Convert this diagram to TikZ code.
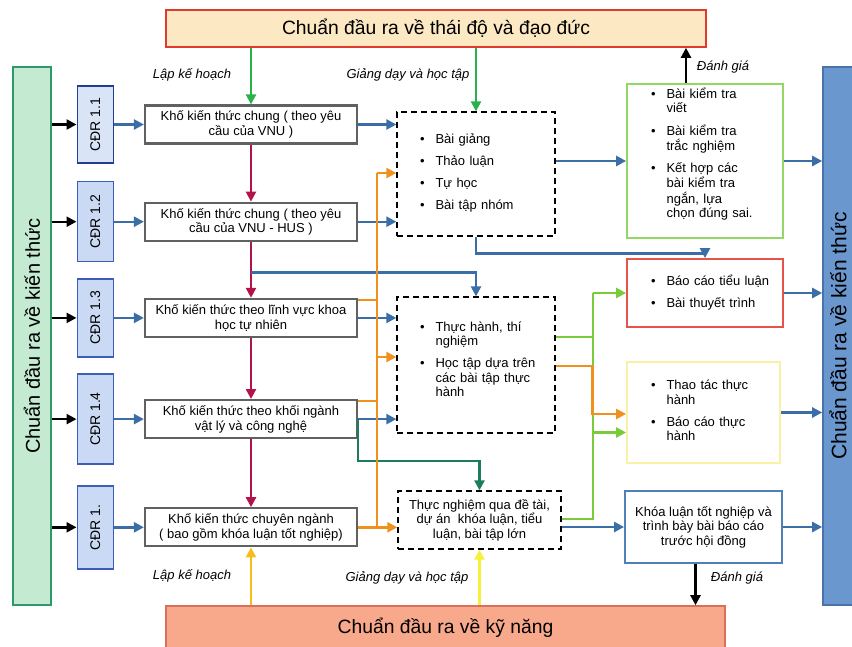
\documentclass[tikz,border=0pt]{standalone}
\usepackage{fontspec}
\setmainfont{Liberation Sans}
\usepackage{graphicx}
\usepackage{tikz}
\usetikzlibrary{positioning,arrows.meta}
\definecolor{attfill}{HTML}{FCE9C4}
\definecolor{attdraw}{HTML}{E2392D}
\definecolor{skillfill}{HTML}{F8A98C}
\definecolor{skilldraw}{HTML}{D9705A}
\definecolor{knowfill}{HTML}{C4EAD2}
\definecolor{knowdraw}{HTML}{2E9A6B}
\definecolor{rknowfill}{HTML}{6B97CF}
\definecolor{rknowdraw}{HTML}{4A73AB}
\definecolor{cdrfill}{HTML}{CAD9F4}
\definecolor{cdrdraw}{HTML}{3D5DBA}
\definecolor{cdrdark}{HTML}{213D94}
\definecolor{arrblue}{HTML}{3B6EA6}
\definecolor{arrred}{HTML}{B3134C}
\definecolor{arrgreen}{HTML}{2AB24A}
\definecolor{arrorange}{HTML}{F0911D}
\definecolor{arrteal}{HTML}{1D7C60}
\definecolor{arrlime}{HTML}{7ACB38}
\definecolor{arrgold}{HTML}{F6BC1B}
\definecolor{arryellow}{HTML}{F6F03A}
\definecolor{lbgreen}{HTML}{93D764}
\definecolor{lbred}{HTML}{E6534B}
\definecolor{lbyellow}{HTML}{FBF1A6}
\definecolor{lbblue}{HTML}{4F80B7}

\begin{document}
\begin{tikzpicture}[x=1pt, y=-1pt, line width=2.4pt,
    every node/.style={font=\fontsize{13}{14.5}\selectfont},
    bigbox/.style={draw, line width=1.6pt, font=\fontsize{19.3}{22}\selectfont},
    sidebox/.style={draw, line width=1.6pt, minimum height=538pt, inner sep=0pt},
    cdr/.style={draw=cdrdraw, fill=cdrfill, line width=1.4pt, minimum width=36pt, inner sep=0pt, font=\fontsize{14}{16}\selectfont},
    kbox/.style={draw=black!62, line width=2.2pt, fill=white, minimum width=212pt, minimum height=38pt, inner sep=1pt, align=center},
    dbox/.style={draw, line width=1.3pt, dash pattern=on 6pt off 4pt},
    rbox/.style={draw, line width=1.8pt, fill=white},
    lst/.style={align=left, text width=#1, inner ysep=0pt},
    arr/.style={-{Triangle[length=10pt,width=10pt]}},
    lbl/.style={font=\itshape\fontsize{13}{14.5}\selectfont}]
  \useasboundingbox (0,0) rectangle (852,646);
  \node[bigbox, draw=attdraw, fill=attfill, minimum width=540pt, minimum height=37pt] (att) at (436,28.5) {Chuẩn đầu ra về thái độ và đạo đức};
  \node[bigbox, draw=skilldraw, fill=skillfill, minimum width=559pt, minimum height=44pt] (skill) at (445.5,628) {Chuẩn đầu ra về kỹ năng};
  \node[sidebox, draw=knowdraw, fill=knowfill, minimum width=38pt, font=\fontsize{20}{22}\selectfont] (lknow) at (32,336) {\rotatebox{90}{Chuẩn đầu ra về kiến thức}};
  \node[sidebox, draw=rknowdraw, fill=rknowfill, minimum width=30pt, font=\fontsize{21}{23}\selectfont] (rknow) at (838,336) {\rotatebox{90}{Chuẩn đầu ra về kiến thức}};

  \node[kbox] (k1) at (251,124.5) {Khố kiến thức chung ( theo yêu\\cầu của VNU )};
  \node[kbox, below=57pt of k1] (k2) {Khố kiến thức chung ( theo yêu\\cầu của VNU - HUS )};
  \node[kbox, below=56pt of k2] (k3) {Khố kiến thức theo lĩnh vực khoa\\học tự nhiên};
  \node[kbox, below=61pt of k3] (k4) {Khố kiến thức theo khối ngành\\vật lý và công nghệ};
  \node[kbox, below=68pt of k4] (k5) {Khố kiến thức chuyên ngành\\( bao gồm khóa luận tốt nghiệp)};

  \node[cdr, draw=cdrdark, fill=cdrfill!70!white, minimum height=77pt, left=30pt of k1] (c1) {\rotatebox{90}{CĐR 1.1}};
  \node[cdr, minimum height=80pt, left=30pt of k2] (c2) {\rotatebox{90}{CĐR 1.2}};
  \node[cdr, minimum height=78pt, left=30pt of k3] (c3) {\rotatebox{90}{CĐR 1.3}};
  \node[cdr, minimum height=90pt, left=30pt of k4] (c4) {\rotatebox{90}{CĐR 1.4}};
  \node[cdr, minimum height=83pt, left=30pt of k5] (c5) {\rotatebox{90}{CĐR 1.}};

  \node[dbox, lst=112pt, inner xsep=23pt, minimum height=124pt] (d1) at (476,174) {%
    \begin{tabular}{@{}l@{\hspace{11pt}}l@{}}
      \textbullet & Bài giảng\\[7.5pt]
      \textbullet & Thảo luận\\[7.5pt]
      \textbullet & Tự học\\[7.5pt]
      \textbullet & Bài tập nhóm
    \end{tabular}};
  \node[dbox, lst=112pt, inner xsep=23pt, minimum height=136pt] (d2) at (476,365) {%
    \begin{tabular}{@{}l@{\hspace{11pt}}l@{}}
      \textbullet & Thực hành, thí\\
                  & nghiệm\\[7.5pt]
      \textbullet & Học tập dựa trên\\
                  & các bài tập thực\\
                  & hành\\[8pt]
    \end{tabular}};
  \node[dbox, align=center, minimum width=163pt, minimum height=58pt, inner sep=1pt] (d3) at (479.5,520) {Thực nghiệm qua đề tài,\\dự án\ \ khóa luận, tiểu\\luận, bài tập lớn};

  \node[rbox, draw=lbgreen, lst=108pt, inner xsep=24pt, minimum height=154pt] (r1) at (705,161) {%
    \begin{tabular}{@{}l@{\hspace{11pt}}l@{}}
      \textbullet & Bài kiểm tra\\
                  & viết\\[7.5pt]
      \textbullet & Bài kiểm tra\\
                  & trắc nghiệm\\[7.5pt]
      \textbullet & Kết hợp các\\
                  & bài kiểm tra\\
                  & ngắn, lựa\\
                  & chọn đúng sai.\\[12pt]
    \end{tabular}};
  \node[rbox, draw=lbred, lst=108pt, inner xsep=24pt, minimum height=68pt] (r2) at (705,293) {%
    \begin{tabular}{@{}l@{\hspace{11pt}}l@{}}
      \textbullet & Báo cáo tiểu luận\\[7.5pt]
      \textbullet & Bài thuyết trình
    \end{tabular}};
  \node[rbox, draw=lbyellow, lst=105pt, inner xsep=24pt, minimum height=101pt] (r3) at (703.5,412.5) {%
    \begin{tabular}{@{}l@{\hspace{11pt}}l@{}}
      \textbullet & Thao tác thực\\
                  & hành\\[7.5pt]
      \textbullet & Báo cáo thực\\
                  & hành
    \end{tabular}};
  \node[rbox, draw=lbblue, align=center, minimum width=157pt, minimum height=72pt, inner sep=1pt] (r4) at (703.5,527) {Khóa luận tốt nghiệp và\\trình bày bài báo cáo\\trước hội đồng};

  \node[lbl] (plan1) at (192,75) {Lập kế hoạch};
  \node[lbl] (teach1) at (408,75) {Giảng dạy và học tập};
  \node[lbl] (eval1) at (723,67) {Đánh giá};
  \node[lbl] (plan2) at (192,576) {Lập kế hoạch};
  \node[lbl] (teach2) at (407,578) {Giảng dạy và học tập};
  \node[lbl] (eval2) at (737,578) {Đánh giá};

  \foreach \i in {1,...,5} {
    \draw[arr] (c\i.west -| lknow.east) -- (c\i.west);
    \draw[arr, arrblue] (c\i) -- (k\i);
  }
  \foreach \i/\j in {1/2,2/3,3/4,4/5}
    \draw[arr, arrred] (k\i) -- (k\j);
  \draw[arr, arrgreen] (att.south -| k1) -- (k1);
  \draw[arr, arrgreen] (att.south -| d1) -- (d1);
  \draw[arr, arrgold] (k5 |- skill.north) -- (k5);
  \draw[arr, arryellow] (d3 |- skill.north) -- (d3);
  \draw[arr] ([xshift=-19pt]r1.north) -- ([xshift=-19pt]r1.north |- att.south);
  \draw[arr] ([xshift=-8pt]r4.south) -- ([xshift=-8pt]r4.south |- skill.north);

  \draw[arr, arrblue] (k1) -- (k1 -| d1.west);
  \draw[arr, arrblue] (k2) -- (k2 -| d1.west);
  \draw[arr, arrblue] (k3) -- (k3 -| d2.west);
  \draw[arr, arrblue] (k4) -- (k4 -| d2.west);
  \path (k2.south) -- (k3.north) coordinate[pos=0.55] (kj);
  \draw[arr, arrblue] (kj) -| (d2);
  \draw[arr, arrblue] (d1.south) -- ++(0,17) -| (r2);
  \draw[arr, arrblue] (d1.east |- r1) -- (r1);
  \draw[arr, arrblue] (d3.east |- r4) -- (r4);
  \foreach \r in {r1,r2,r3,r4}
    \draw[arr, arrblue] (\r) -- (\r -| rknow.west);
  \draw[arr, arrteal] (k4.east) -- ++(0,42) -| (d3);

  \coordinate (obus) at (377,173);
  \draw[arrorange] (obus) -- (obus |- k5);
  \draw[arr, arrorange] (obus) -- (obus -| d1.west);
  \draw[arrorange] ([yshift=-2pt]k3.north east) -- ([yshift=-2pt]k3.north east -| obus);
  \draw[arrorange] ([yshift=-2pt]k4.north east) -- ([yshift=-2pt]k4.north east -| obus);
  \draw[arr, arrorange] ([yshift=8pt]d2.west -| obus) -- ([yshift=8pt]d2.west);
  \draw[arr, arrorange] (k5) -- (k5 -| d3.west);

  \coordinate (gbus) at (593,293);
  \draw[arr, arrlime] (gbus) -- (gbus -| r2.west);
  \draw[arrlime] ([yshift=1pt]d3.east) -| (gbus);
  \draw[arrlime] ([yshift=28pt]d2.east) -- ([yshift=28pt]d2.east -| gbus);
  \draw[arr, arrlime] ([yshift=-20pt]r3.west -| gbus) -- ([yshift=-20pt]r3.west);
  \draw[arr, arrorange] ([yshift=-1pt]d2.east) -- ++(37,0) |- ([yshift=-1.5pt]r3.west);
\end{tikzpicture}
\end{document}
